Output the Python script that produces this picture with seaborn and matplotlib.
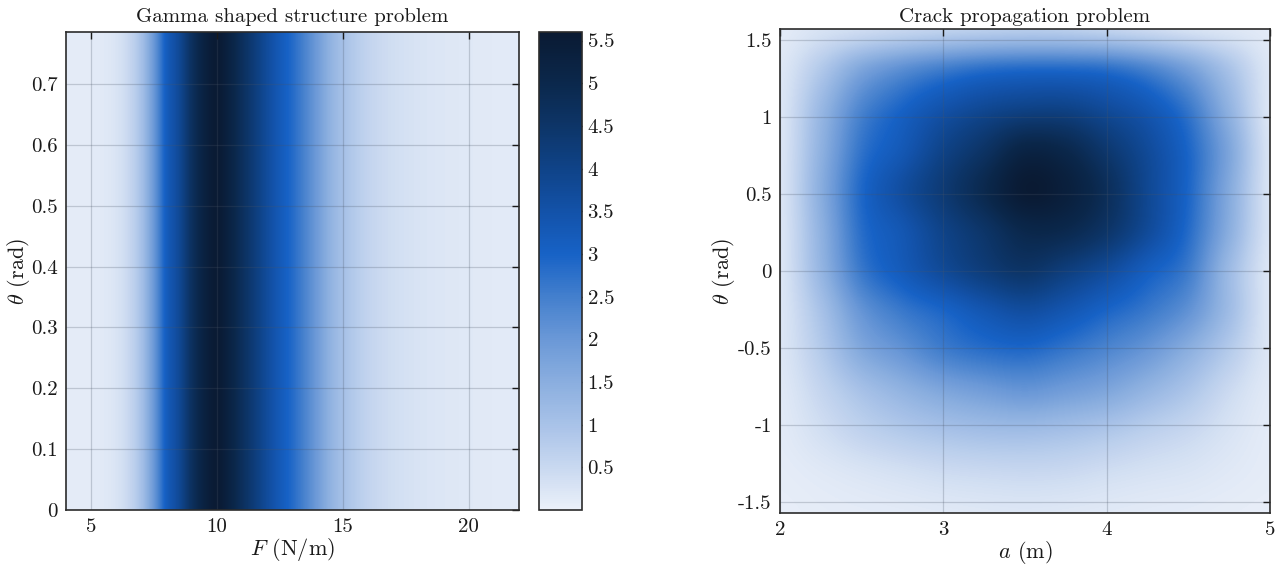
import numpy as np
import matplotlib
matplotlib.use("Agg")
import matplotlib.pyplot as plt
from matplotlib.colors import LinearSegmentedColormap
import seaborn as sns

# ---- Gamma shaped structure problem: density along F (constant in theta) ----
gamma_F = [4.0, 4.5, 5.0, 5.5, 6.0, 6.5, 7.0, 7.5, 8.0, 8.5, 9.0, 9.5, 10.0,
           10.5, 11.0, 11.5, 12.0, 12.5, 13.0, 13.5, 14.0, 14.5, 15.0, 15.5,
           16.0, 16.5, 17.0, 17.5, 18.0, 18.5, 19.0, 19.5, 20.0, 20.5, 21.0,
           21.5, 22.0]
gamma_density = [0.10, 0.10, 0.11, 0.15, 0.26, 0.52, 1.05, 2.00, 3.15, 3.80,
                 4.65, 5.25, 5.55, 5.20, 4.70, 4.20, 3.70, 3.25, 2.85, 2.40,
                 1.90, 1.40, 1.05, 0.80, 0.60, 0.47, 0.38, 0.32, 0.27, 0.23,
                 0.20, 0.18, 0.16, 0.14, 0.13, 0.12, 0.11]
gamma_theta_range = [0.0, np.pi / 4]

# ---- Crack propagation problem: density over (a, theta) ----
crack_a = [2.0, 2.25, 2.5, 2.75, 3.0, 3.25, 3.5, 3.75, 4.0, 4.25, 4.5, 4.75, 5.0]
crack_theta = [-1.571, -1.309, -1.047, -0.785, -0.524, -0.262, 0.0,
               0.262, 0.524, 0.785, 1.047, 1.309, 1.571]
crack_density = [
    [0.05, 0.08, 0.10, 0.12, 0.15, 0.18, 0.20, 0.18, 0.15, 0.12, 0.10, 0.07, 0.05],
    [0.08, 0.15, 0.24, 0.33, 0.42, 0.47, 0.50, 0.47, 0.38, 0.30, 0.24, 0.15, 0.08],
    [0.12, 0.35, 0.62, 0.82, 0.97, 1.07, 1.10, 1.02, 0.88, 0.68, 0.50, 0.27, 0.10],
    [0.15, 0.55, 1.00, 1.35, 1.65, 1.85, 2.00, 1.85, 1.65, 1.30, 0.92, 0.45, 0.14],
    [0.20, 0.80, 1.60, 2.05, 2.50, 2.75, 2.85, 2.62, 2.33, 1.98, 1.45, 0.80, 0.20],
    [0.20, 1.00, 2.05, 2.60, 2.95, 3.35, 3.62, 3.35, 2.95, 2.60, 2.10, 1.15, 0.20],
    [0.20, 1.30, 2.60, 3.20, 3.75, 4.20, 4.50, 4.15, 3.70, 3.10, 2.55, 1.20, 0.20],
    [0.20, 1.40, 2.80, 3.35, 4.00, 4.50, 5.00, 4.95, 4.50, 3.75, 2.85, 1.50, 0.25],
    [0.20, 1.50, 2.90, 3.65, 4.30, 4.95, 5.55, 5.35, 4.75, 3.85, 2.95, 1.60, 0.25],
    [0.20, 1.40, 2.70, 3.30, 4.00, 4.55, 5.15, 5.00, 4.40, 3.75, 2.95, 1.70, 0.25],
    [0.20, 1.25, 2.40, 3.00, 3.50, 3.85, 4.05, 4.05, 3.75, 3.35, 2.65, 1.40, 0.20],
    [0.18, 0.85, 1.70, 2.20, 2.55, 2.80, 2.90, 2.90, 2.80, 2.45, 1.85, 1.00, 0.20],
    [0.10, 0.28, 0.40, 0.52, 0.62, 0.70, 0.75, 0.72, 0.60, 0.45, 0.30, 0.20, 0.12],
]

# colour scale shared by both panels
cmap_levels = [0.0, 0.5, 1.0, 1.5, 2.0, 2.5, 3.0, 3.5, 4.0, 4.5, 5.0, 5.6]
cmap_colors = ["#eaf0f9", "#c8d8f0", "#a8c2e8", "#8aaedf", "#6a98d7", "#437fcd",
               "#1762c6", "#1352a9", "#0f4388", "#0d3568", "#0b284c", "#0a1a33"]
vmin, vmax = 0.0, 5.6

sns.set_theme(style="white")
plt.rcParams.update({
    "font.family": "serif",
    "font.serif": ["cmr10", "DejaVu Serif"],
    "mathtext.fontset": "cm",
    "axes.unicode_minus": False,
    "axes.formatter.use_mathtext": True,
    "font.size": 15,
    "axes.edgecolor": "#2b2b2b",
    "axes.linewidth": 1.2,
    "text.color": "#1a1a1a",
    "axes.labelcolor": "#1a1a1a",
    "xtick.color": "#1a1a1a",
    "ytick.color": "#1a1a1a",
})

cmap = LinearSegmentedColormap.from_list(
    "density_blues", list(zip(np.array(cmap_levels) / vmax, cmap_colors)))

fig = plt.figure(figsize=(12.79, 5.71), dpi=100)
ax1 = fig.add_axes([66 / 1279, 61 / 571, 453 / 1279, 478 / 571])
cax = fig.add_axes([539 / 1279, 61 / 571, 43 / 1279, 478 / 571])
ax2 = fig.add_axes([780 / 1279, 58 / 571, 490 / 1279, 484 / 571])


def style_axes(ax):
    ax.tick_params(direction="in", top=True, right=True, length=5, width=1.0,
                   labelsize=15, pad=6, color="#1a1a1a")
    ax.grid(True, color="#4a5566", alpha=0.25, linewidth=0.9)
    ax.set_axisbelow(False)
    for s in ax.spines.values():
        s.set_zorder(5)


# left panel
gF = np.array(gamma_F)
dF = gF[1] - gF[0]
img1 = np.array(gamma_density)[None, :].repeat(2, axis=0)
im1 = ax1.imshow(img1, origin="lower", aspect="auto", cmap=cmap, vmin=vmin, vmax=vmax,
                 extent=[gF[0] - dF / 2, gF[-1] + dF / 2,
                         gamma_theta_range[0], gamma_theta_range[1]],
                 interpolation="catrom", interpolation_stage="data")
ax1.set_xlim(4, 22)
ax1.set_ylim(*gamma_theta_range)
ax1.set_xticks([5, 10, 15, 20])
ax1.set_xticklabels(["5", "10", "15", "20"])
yt1 = [0, 0.1, 0.2, 0.3, 0.4, 0.5, 0.6, 0.7]
ax1.set_yticks(yt1)
ax1.set_yticklabels(["0", "0.1", "0.2", "0.3", "0.4", "0.5", "0.6", "0.7"])
ax1.set_xlabel(r"$F$ (N/m)", fontsize=16, labelpad=0)
ax1.set_ylabel(r"$\theta$ (rad)", fontsize=16)
ax1.yaxis.set_label_coords(-0.074, 0.5)
ax1.set_title("Gamma shaped structure problem", fontsize=15, pad=7)
style_axes(ax1)

cb = fig.colorbar(im1, cax=cax)
cb.set_ticks([0.5, 1, 1.5, 2, 2.5, 3, 3.5, 4, 4.5, 5, 5.5])
cb.set_ticklabels(["0.5", "1", "1.5", "2", "2.5", "3", "3.5", "4", "4.5", "5", "5.5"])
cb.ax.tick_params(direction="in", length=5, width=1.0, labelsize=15, pad=4,
                  color="#1a1a1a")
cb.outline.set_edgecolor("#2b2b2b")
cb.outline.set_linewidth(1.2)

# right panel
ca = np.array(crack_a)
ct = np.array(crack_theta)
da = ca[1] - ca[0]
dt = ct[1] - ct[0]
ax2.imshow(np.array(crack_density), origin="lower", aspect="auto", cmap=cmap,
           vmin=vmin, vmax=vmax,
           extent=[ca[0] - da / 2, ca[-1] + da / 2, ct[0] - dt / 2, ct[-1] + dt / 2],
           interpolation="catrom", interpolation_stage="data")
ax2.set_xlim(2, 5)
ax2.set_ylim(-np.pi / 2, np.pi / 2)
ax2.set_xticks([2, 3, 4, 5])
ax2.set_xticklabels(["2", "3", "4", "5"])
ax2.set_yticks([-1.5, -1, -0.5, 0, 0.5, 1, 1.5])
ax2.set_yticklabels(["-1.5", "-1", "-0.5", "0", "0.5", "1", "1.5"])
ax2.set_xlabel(r"$a$ (m)", fontsize=16, labelpad=0)
ax2.set_ylabel(r"$\theta$ (rad)", fontsize=16)
ax2.yaxis.set_label_coords(-0.088, 0.5)
ax2.set_title("Crack propagation problem", fontsize=15, pad=5)
style_axes(ax2)

fig.savefig("out.png", dpi=100)
